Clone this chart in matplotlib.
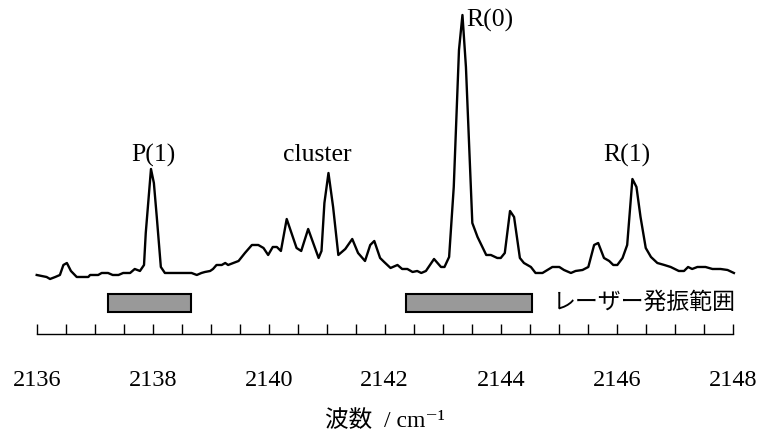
import matplotlib
matplotlib.use("Agg")
import matplotlib.pyplot as plt
from matplotlib.ticker import MultipleLocator

plt.rcParams['font.family'] = ['Liberation Serif', 'DejaVu Serif', 'Noto Sans CJK JP']

# スペクトル (波数 / cm-1, 強度 任意単位)
wavenumber = [
    2136.00, 2136.17, 2136.23, 2136.32, 2136.40, 2136.46, 2136.52, 2136.59, 2136.69, 2136.89,
    2136.92, 2137.06, 2137.12, 2137.23, 2137.31, 2137.41, 2137.49, 2137.61, 2137.69, 2137.78,
    2137.85, 2137.88, 2137.97, 2138.02, 2138.07, 2138.14, 2138.21, 2138.67, 2138.76, 2138.84,
    2138.90, 2138.99, 2139.04, 2139.10, 2139.19, 2139.25, 2139.30, 2139.39, 2139.48, 2139.59,
    2139.71, 2139.82, 2139.91, 2139.99, 2140.07, 2140.14, 2140.21, 2140.31, 2140.48, 2140.56,
    2140.68, 2140.86, 2140.91, 2140.96, 2141.03, 2141.11, 2141.20, 2141.32, 2141.44, 2141.54,
    2141.66, 2141.75, 2141.82, 2141.92, 2141.99, 2142.10, 2142.22, 2142.30, 2142.39, 2142.48,
    2142.56, 2142.63, 2142.71, 2142.85, 2142.97, 2143.03, 2143.11, 2143.19, 2143.28, 2143.34,
    2143.40, 2143.51, 2143.60, 2143.75, 2143.83, 2143.94, 2144.00, 2144.07, 2144.16, 2144.23,
    2144.33, 2144.40, 2144.52, 2144.60, 2144.72, 2144.89, 2145.01, 2145.09, 2145.21, 2145.29,
    2145.41, 2145.51, 2145.61, 2145.68, 2145.78, 2145.87, 2145.94, 2146.01, 2146.10, 2146.18,
    2146.27, 2146.34, 2146.41, 2146.50, 2146.59, 2146.70, 2146.82, 2146.93, 2147.07, 2147.16,
    2147.23, 2147.30, 2147.39, 2147.53, 2147.65, 2147.79, 2147.91, 2148.02,
]
intensity = [
    5, 3, 1, 3, 5, 15, 17, 9, 3, 3,
    5, 5, 7, 7, 5, 5, 7, 7, 11, 9,
    15, 47, 111, 97, 63, 13, 7, 7, 5, 7,
    8, 9, 11, 15, 15, 17, 15, 17, 19, 27,
    35, 35, 32, 25, 33, 33, 29, 61, 32, 29,
    51, 22, 29, 77, 107, 73, 25, 31, 41, 27,
    19, 35, 39, 22, 18, 12, 15, 11, 11, 8,
    9, 7, 9, 21, 13, 13, 23, 93, 230, 265,
    213, 57, 43, 25, 25, 22, 22, 27, 69, 63,
    22, 17, 13, 7, 7, 13, 13, 10, 7, 9,
    10, 13, 35, 37, 22, 19, 15, 15, 22, 35,
    101, 93, 63, 32, 23, 17, 15, 13, 9, 9,
    13, 11, 13, 13, 11, 11, 10, 7,
]

# ピーク帰属
peak_names = ['P(1)', 'cluster', 'R(1)']
peak_pos = [2138.02, 2140.83, 2146.18]
peak_label_y = 125
main_peak_name = 'R(0)'
main_peak_pos = 2143.40
main_peak_y = 260

# レーザー発振範囲
laser_start = [2137.23, 2142.37]
laser_end = [2138.66, 2144.54]
laser_label = 'レーザー発振範囲'

fig = plt.figure(figsize=(7.68, 4.32), dpi=100)
ax = fig.add_axes([0.0478, 0.2269, 0.9063, 0.7731])

ax.plot(wavenumber, intensity, color='black', lw=1.7, clip_on=False)

widths = [e - s for s, e in zip(laser_start, laser_end)]
ax.barh([-23] * len(laser_start), widths, left=laser_start, height=18,
        color='#999999', edgecolor='black', linewidth=1.5)
ax.text(2144.90, -22, laser_label, family=['Noto Sans CJK JP'], fontsize=16.5,
        ha='left', va='center')

for name, pos in zip(peak_names, peak_pos):
    ax.text(pos, peak_label_y, name, fontsize=18.5, ha='center', va='center')
ax.text(main_peak_pos, main_peak_y, main_peak_name, fontsize=18.5, ha='left', va='center')

ax.set_xlim(2136, 2148)
ax.set_ylim(-54, 280)
for side in ['left', 'right', 'top']:
    ax.spines[side].set_visible(False)
ax.spines['bottom'].set_linewidth(1.0)
ax.set_yticks([])
ax.xaxis.set_major_locator(MultipleLocator(2))
ax.xaxis.set_minor_locator(MultipleLocator(0.5))
ax.tick_params(axis='x', which='both', direction='in', length=7, width=1, pad=26,
               labelsize=17.5)
ax.set_xlabel('波数  / cm⁻¹', fontsize=17, labelpad=14)

fig.savefig('out.png', dpi=100)
